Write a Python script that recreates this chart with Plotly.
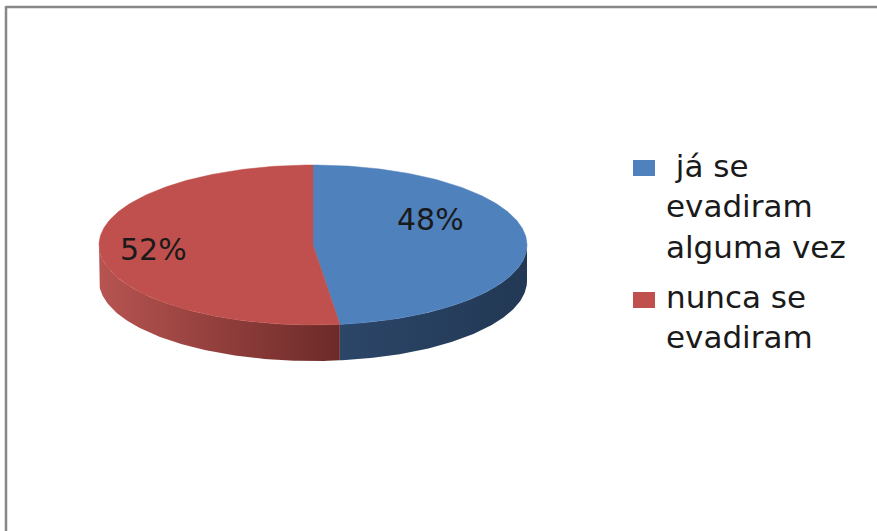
import numpy as np
import plotly.graph_objects as go

# ---- data ----
labels = ["\u00a0já se<br>evadiram<br>alguma vez", "nunca se<br>evadiram"]
values = [48, 52]

# ---- style ----
top_colors = ["#4f81bd", "#c0504d"]
side_left = ["rgb(44,70,104)", "rgb(183,84,81)"]    # colour at left end of visible side
side_right = ["rgb(34,56,84)", "rgb(108,42,40)"]    # colour at right end
label_pos = [(430, 219), (153, 249)]                # pixel positions for % labels
W, H = 877, 531
cx, cy, a, b, depth = 313, 245, 214, 80, 36

def ell(theta_deg):
    t = np.radians(theta_deg)
    return cx + a * np.sin(t), cy - b * np.cos(t)

fig = go.Figure()

total = sum(values)
starts = np.cumsum([0] + values[:-1]) / total * 360
ends = np.cumsum(values) / total * 360

# sides (front half: 90..270 deg clockwise from top)
for i, (s, e) in enumerate(zip(starts, ends)):
    lo, hi = max(s, 90), min(e, 270)
    if hi <= lo:
        continue
    thetas = np.linspace(lo, hi, 120)
    top = [ell(t) for t in thetas]
    xs = [p[0] for p in top] + [p[0] for p in top[::-1]] + [top[0][0]]
    ys = [p[1] for p in top] + [p[1] + depth for p in top[::-1]] + [top[0][1]]
    fig.add_trace(go.Scatter(
        x=xs, y=ys, mode="lines", fill="toself",
        fillgradient=dict(type="horizontal",
                          colorscale=[[0, side_left[i]], [1, side_right[i]]]),
        line=dict(width=0), hoverinfo="skip", showlegend=False))

# top faces
for i, (s, e) in enumerate(zip(starts, ends)):
    thetas = np.linspace(s, e, 200)
    pts = [ell(t) for t in thetas]
    xs = [cx] + [p[0] for p in pts] + [cx]
    ys = [cy] + [p[1] for p in pts] + [cy]
    fig.add_trace(go.Scatter(
        x=xs, y=ys, mode="lines", fill="toself", fillcolor=top_colors[i],
        line=dict(color=top_colors[i], width=0.5), hoverinfo="skip", showlegend=False))

# percent labels
for i, v in enumerate(values):
    fig.add_annotation(x=label_pos[i][0], y=label_pos[i][1], text=f"{v}%",
                       showarrow=False, xanchor="center", yanchor="middle",
                       font=dict(family="DejaVu Sans", size=30, color="#1a1a1a"))

# legend
legend_y = [206, 317]
legend_sq_y = [168, 300]
for i, lab in enumerate(labels):
    fig.add_shape(type="rect", x0=633, x1=655, y0=legend_sq_y[i] - 8, y1=legend_sq_y[i] + 8,
                  fillcolor=top_colors[i], line=dict(width=0), layer="above")
    fig.add_annotation(x=664, y=legend_y[i], text=lab, showarrow=False,
                       xanchor="left", yanchor="middle", align="left",
                       font=dict(family="DejaVu Sans", size=31, color="#1a1a1a"))

# chart border (top and left visible)
fig.add_shape(type="line", x0=6, x1=W, y0=7, y1=7, line=dict(color="#878787", width=2.5))
fig.add_shape(type="line", x0=6, x1=6, y0=6, y1=H, line=dict(color="#878787", width=2.5))

fig.update_layout(
    width=W, height=H, margin=dict(l=0, r=0, t=0, b=0),
    paper_bgcolor="white", plot_bgcolor="white",
    xaxis=dict(range=[0, W], visible=False, fixedrange=True),
    yaxis=dict(range=[H, 0], visible=False, fixedrange=True),
    showlegend=False,
)

fig.write_html("out.html")
